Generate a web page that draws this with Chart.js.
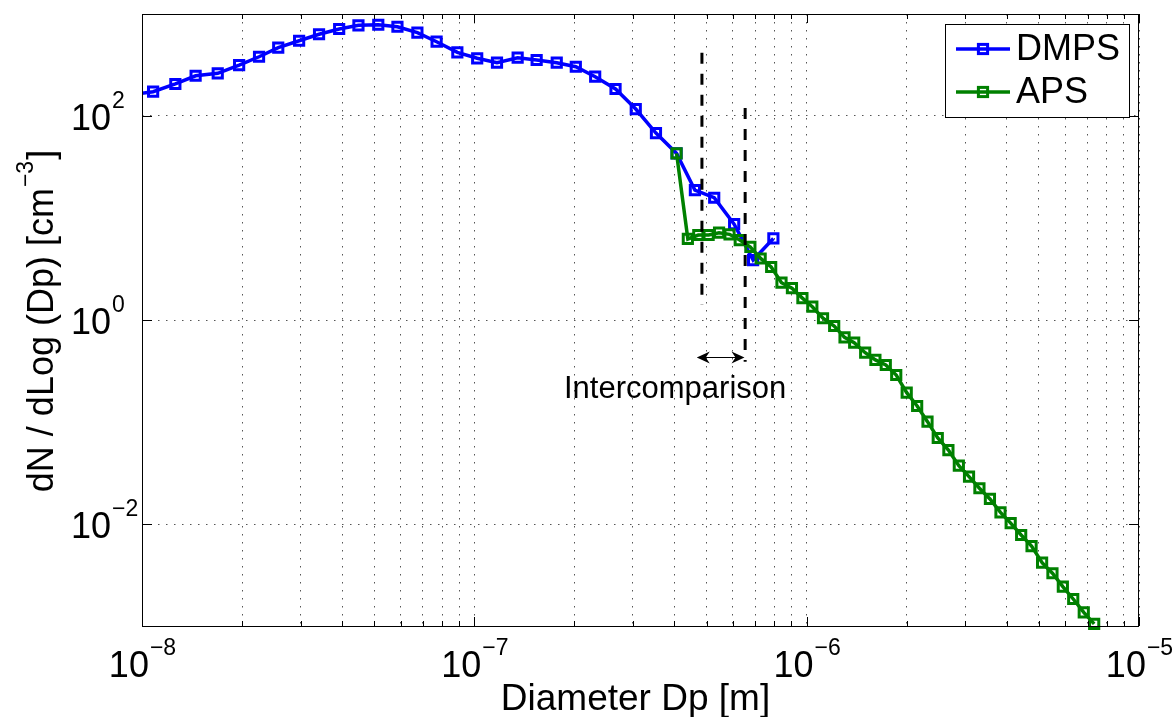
<!DOCTYPE html>
<html>
<head>
<meta charset="utf-8">
<script src="https://cdn.jsdelivr.net/npm/chart.js@4.4.1/dist/chart.umd.min.js"></script>
<style>
  html, body { margin: 0; padding: 0; background: #fff; }
  canvas { display: block; }
</style>
</head>
<body>
<canvas id="psd" width="1173" height="717"></canvas>
<script>
// ── DATA (diameter in m, dN/dlogDp in cm^-3) ──
const dmpsDiam = [0.94e-8, 1.08e-8, 1.26e-8, 1.45e-8, 1.69e-8, 1.96e-8, 2.25e-8, 2.57e-8, 2.97e-8, 3.41e-8,
                  3.92e-8, 4.48e-8, 5.14e-8, 5.87e-8, 6.74e-8, 7.70e-8, 8.89e-8, 1.02e-7, 1.17e-7, 1.35e-7,
                  1.54e-7, 1.77e-7, 2.02e-7, 2.31e-7, 2.66e-7, 3.06e-7, 3.52e-7, 4.06e-7, 4.61e-7, 5.27e-7,
                  6.05e-7, 6.90e-7, 7.94e-7];
const dmpsConc = [162, 173, 206, 248, 262, 316, 381, 468, 547, 633,
                  713, 774, 785, 750, 656, 535, 421, 368, 333, 373,
                  354, 333, 304, 243, 184, 117, 68, 43, 18.8, 15.8,
                  8.7, 3.87, 6.3];

const apsDiam = [4.06e-7, 4.39e-7, 4.72e-7, 5.07e-7, 5.45e-7, 5.86e-7, 6.29e-7, 6.77e-7, 7.27e-7, 7.82e-7,
                 8.40e-7, 9.03e-7, 9.71e-7, 1.04e-6, 1.12e-6, 1.21e-6, 1.30e-6, 1.39e-6, 1.50e-6, 1.61e-6,
                 1.73e-6, 1.86e-6, 2.00e-6, 2.15e-6, 2.31e-6, 2.48e-6, 2.67e-6, 2.87e-6, 3.08e-6, 3.31e-6,
                 3.56e-6, 3.83e-6, 4.11e-6, 4.42e-6, 4.75e-6, 5.11e-6, 5.49e-6, 5.90e-6, 6.34e-6, 6.82e-6,
                 7.33e-6];
const apsConc = [43, 6.23, 6.81, 6.81, 7.18, 6.92, 6.08, 5.20, 4.01, 3.31,
                 2.32, 2.05, 1.64, 1.35, 1.04, 0.873, 0.676, 0.599, 0.478, 0.406,
                 0.362, 0.289, 0.194, 0.1435, 0.1007, 0.0697, 0.0531, 0.0373, 0.0291, 0.0224,
                 0.0176, 0.0130, 0.0102, 0.0078, 0.00608, 0.00418, 0.00329, 0.00243, 0.00184, 0.00136,
                 0.00105];

// intercomparison window (dashed cut lines + arrow)
const cutLowDiam  = [4.84e-7, 4.84e-7];
const cutLowConc  = [417, 1.40];
const cutHighDiam = [6.53e-7, 6.53e-7];
const cutHighConc = [120, 0.39];
const arrowDiam   = [4.67e-7, 6.50e-7];
const arrowConc   = 0.433;
const noteText    = 'Intercomparison';
const notePos     = [4.02e-7, 0.172];

// axes
const xRange     = [1e-8, 1e-5];
const yRange     = [1e-3, 1e3];
const xDecades   = [1e-8, 1e-7, 1e-6];
const mantissas  = [1, 2, 3, 4, 5, 6, 7, 8, 9];
const xLabelExp  = [-8, -7, -6, -5];
const yLabelExp  = [2, 0, -2];
const xTitle     = 'Diameter Dp [m]';
const seriesNames = ['DMPS', 'APS'];
const seriesColors = ['#0000ff', '#008000'];

const xGridVals = xDecades.flatMap(d => mantissas.map(m => m * d)).concat([xRange[1]]);
const yGridVals = yLabelExp.map(e => Math.pow(10, e));

const FONT = '"Liberation Sans", Arial, Helvetica, sans-serif';
const toXY = (xs, ys) => xs.map((v, i) => ({ x: v, y: Array.isArray(ys) ? ys[i] : ys }));

// ── HELPERS ──
const supText = (exp) => String(exp).replace('-', '\u2212');

// "10" with a raised exponent; align = 'center' | 'left'
function drawPow(ctx, x, baseline, exp, align) {
  const main = '10', sup = supText(exp);
  ctx.font = `36px ${FONT}`;
  const w1 = ctx.measureText(main).width;
  ctx.font = `23px ${FONT}`;
  const w2 = ctx.measureText(sup).width;
  const x0 = align === 'center' ? x - (w1 + w2) / 2 : x;
  ctx.textAlign = 'left';
  ctx.textBaseline = 'alphabetic';
  ctx.font = `36px ${FONT}`;
  ctx.fillText(main, x0, baseline);
  ctx.font = `23px ${FONT}`;
  ctx.fillText(sup, x0 + w1 + 1, baseline - 22);
}

function drawMarker(ctx, x, y, color) {
  ctx.save();
  ctx.strokeStyle = color;
  ctx.lineWidth = 3;
  ctx.strokeRect(x - 4.6, y - 4.6, 9.2, 9.2);
  ctx.restore();
}

// ── AXIS FRAME, TICKS, LABELS, LEGEND ──
const framePlugin = {
  id: 'frame',
  afterDraw(chart) {
    const { ctx, chartArea: a, scales: { x, y } } = chart;
    ctx.save();
    ctx.setLineDash([]);
    ctx.strokeStyle = '#000';
    ctx.fillStyle = '#000';
    ctx.lineWidth = 1;

    // box
    ctx.strokeRect(a.left + 0.5, a.top + 0.5, a.right - a.left - 1, a.bottom - a.top);

    // x ticks (inward, top and bottom)
    ctx.beginPath();
    xGridVals.forEach(v => {
      const px = Math.round(x.getPixelForValue(v)) + 0.5;
      const len = xLabelExp.some(e => Math.abs(Math.log10(v) - e) < 1e-9) ? 9 : 5;
      ctx.moveTo(px, a.bottom); ctx.lineTo(px, a.bottom - len);
      ctx.moveTo(px, a.top);    ctx.lineTo(px, a.top + len);
    });
    // y ticks (inward, left and right)
    yGridVals.forEach(v => {
      const py = Math.round(y.getPixelForValue(v)) + 0.5;
      ctx.moveTo(a.left, py);  ctx.lineTo(a.left + 10, py);
      ctx.moveTo(a.right, py); ctx.lineTo(a.right - 10, py);
    });
    ctx.stroke();

    // tick labels
    xLabelExp.forEach(e => {
      const px = x.getPixelForValue(Math.pow(10, e));
      drawPow(ctx, px, a.bottom + 51, e, 'center');
    });
    yLabelExp.forEach(e => {
      const py = y.getPixelForValue(Math.pow(10, e));
      drawPow(ctx, 71, py + 13.5, e, 'left');
    });

    // x title
    ctx.font = `37px ${FONT}`;
    ctx.textAlign = 'center';
    ctx.textBaseline = 'alphabetic';
    ctx.fillText(xTitle, (a.left + a.right) / 2 - 5, 710);

    // y title with superscript
    ctx.save();
    ctx.translate(53, (a.top + a.bottom) / 2 + 2);
    ctx.rotate(-Math.PI / 2);
    const p1 = 'dN / dLog (Dp) [cm', p2 = '\u22123', p3 = ']';
    ctx.font = `36px ${FONT}`;
    const w1 = ctx.measureText(p1).width, w3 = ctx.measureText(p3).width;
    ctx.font = `23px ${FONT}`;
    const w2 = ctx.measureText(p2).width;
    const cx = -(w1 + w2 + w3) / 2;
    ctx.textAlign = 'left';
    ctx.font = `36px ${FONT}`;
    ctx.fillText(p1, cx, 0);
    ctx.font = `23px ${FONT}`;
    ctx.fillText(p2, cx + w1 + 1, -20);
    ctx.font = `36px ${FONT}`;
    ctx.fillText(p3, cx + w1 + w2 + 2, 0);
    ctx.restore();

    // intercomparison arrow
    const ax1 = x.getPixelForValue(arrowDiam[0]);
    const ax2 = x.getPixelForValue(arrowDiam[1]);
    const ay = Math.round(y.getPixelForValue(arrowConc)) + 0.5;
    ctx.lineWidth = 1.2;
    ctx.beginPath();
    ctx.moveTo(ax1 + 6, ay); ctx.lineTo(ax2 - 6, ay);
    ctx.stroke();
    ctx.beginPath();
    ctx.moveTo(ax1, ay); ctx.lineTo(ax1 + 13, ay - 6); ctx.lineTo(ax1 + 9, ay); ctx.lineTo(ax1 + 13, ay + 6); ctx.closePath();
    ctx.moveTo(ax2, ay); ctx.lineTo(ax2 - 13, ay - 6); ctx.lineTo(ax2 - 9, ay); ctx.lineTo(ax2 - 13, ay + 6); ctx.closePath();
    ctx.fill();
    ctx.lineWidth = 1;

    // note text
    ctx.font = `31px ${FONT}`;
    ctx.textAlign = 'center';
    ctx.fillText(noteText, x.getPixelForValue(notePos[0]), y.getPixelForValue(notePos[1]));

    // legend box
    const lx = 945, ly = 24, lw = 184, lh = 93;
    ctx.fillStyle = '#fff';
    ctx.fillRect(lx, ly, lw, lh);
    ctx.strokeStyle = '#000';
    ctx.strokeRect(lx + 0.5, ly + 0.5, lw, lh);
    seriesNames.forEach((name, i) => {
      const ry = ly + 25 + i * 43;
      ctx.strokeStyle = seriesColors[i];
      ctx.lineWidth = 3.5;
      ctx.beginPath();
      ctx.moveTo(lx + 11, ry); ctx.lineTo(lx + 65, ry);
      ctx.stroke();
      drawMarker(ctx, lx + 38, ry, seriesColors[i]);
      ctx.fillStyle = '#000';
      ctx.font = `36px ${FONT}`;
      ctx.textAlign = 'left';
      ctx.textBaseline = 'middle';
      ctx.fillText(name, lx + 71, ry + 1);
    });
    ctx.restore();
  }
};

const seriesStyle = (color) => ({
  borderColor: color,
  backgroundColor: color,
  borderWidth: 3.5,
  pointStyle: 'rect',
  pointRadius: 6.5,
  pointBorderWidth: 3,
  pointBorderColor: color,
  pointBackgroundColor: 'rgba(0,0,0,0)',
  tension: 0
});

const cutStyle = {
  borderColor: '#000',
  borderWidth: 3,
  borderDash: [11, 10],
  pointRadius: 0,
  order: -1,
  clip: false
};

new Chart(document.getElementById('psd'), {
  type: 'line',
  data: {
    datasets: [
      { label: seriesNames[0], data: toXY(dmpsDiam, dmpsConc), ...seriesStyle(seriesColors[0]), order: 1,
        clip: { left: 0, top: 10, right: 10, bottom: 10 } },
      { label: seriesNames[1], data: toXY(apsDiam, apsConc), ...seriesStyle(seriesColors[1]), order: 0, clip: false },
      { label: 'cut1', data: toXY(cutLowDiam, cutLowConc), ...cutStyle },
      { label: 'cut2', data: toXY(cutHighDiam, cutHighConc), ...cutStyle }
    ]
  },
  options: {
    responsive: false,
    animation: false,
    events: [],
    layout: { padding: { left: 0, top: 14, right: 34, bottom: 0 } },
    plugins: { legend: { display: false }, tooltip: { enabled: false } },
    scales: {
      x: {
        type: 'logarithmic',
        min: xRange[0],
        max: xRange[1],
        afterBuildTicks: (s) => { s.ticks = xGridVals.map(v => ({ value: v })); },
        afterFit: (s) => { s.height = 91; },
        ticks: { display: false },
        grid: { color: '#555', lineWidth: 1, drawTicks: false },
        border: { display: false, dash: [1.5, 6.5] }
      },
      y: {
        type: 'logarithmic',
        min: yRange[0],
        max: yRange[1],
        afterBuildTicks: (s) => { s.ticks = yGridVals.map(v => ({ value: v })); },
        afterFit: (s) => { s.width = 142; },
        ticks: { display: false },
        grid: { color: '#555', lineWidth: 1, drawTicks: false },
        border: { display: false, dash: [1.5, 6.5] }
      }
    }
  },
  plugins: [framePlugin]
});
</script>
</body>
</html>
